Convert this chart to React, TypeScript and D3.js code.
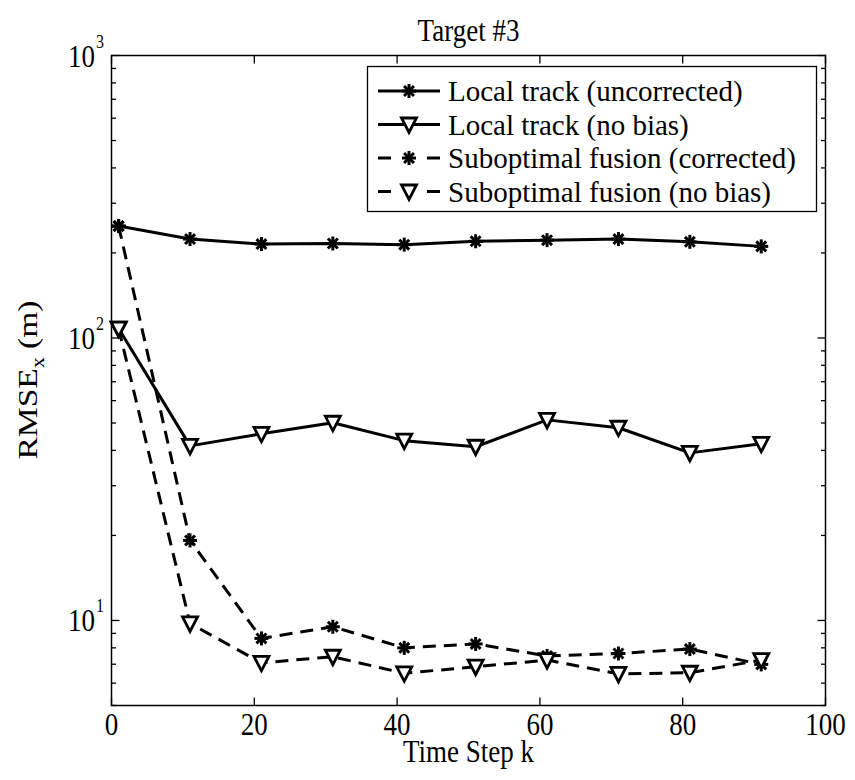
import React from "react";
import * as d3 from "d3";

const xValues = [1, 11, 21, 31, 41, 51, 61, 71, 81, 91];
const localUncorrected = [249, 224, 215, 216, 214, 220, 222, 224, 219, 211];
const localNoBias = [108, 41.5, 45.8, 50.1, 43.3, 41.2, 51.3, 48.1, 39.2, 42.2];
const fusionCorrected = [249, 19.2, 8.64, 9.5, 8.0, 8.26, 7.49, 7.64, 7.92, 6.99];
const fusionNoBias = [108, 9.76, 7.08, 7.44, 6.5, 6.86, 7.24, 6.47, 6.53, 7.24];

const seriesNames = [
  "Local track (uncorrected)",
  "Local track (no bias)",
  "Suboptimal fusion (corrected)",
  "Suboptimal fusion (no bias)",
];
const xTicks = [0, 20, 40, 60, 80, 100];
const yMajorTicks = [10, 100, 1000];
const yExponents = ["1", "2", "3"];
const titleText = "Target #3";
const xLabel = "Time Step k";

const W = 855;
const H = 780;
const left = 111.5;
const right = 825.5;
const top = 55.5;
const bottom = 705.5;
const FONT = "'Liberation Serif', 'DejaVu Serif', 'Times New Roman', serif";
const SY = 1.2;

const x = d3.scaleLinear().domain([0, 100]).range([left, right]);
const y = d3.scaleLog().domain([5, 1000]).range([bottom, top]);

type Marker = "star" | "tri";

function ST({
  x: tx,
  y: ty,
  size,
  anchor = "start",
  sy = SY,
  children,
}: {
  x: number;
  y: number;
  size: number;
  anchor?: string;
  sy?: number;
  children: React.ReactNode;
}) {
  return (
    <text
      transform={`translate(${tx},${ty}) scale(1,${sy})`}
      textAnchor={anchor}
      fontSize={size}
      fill="#000"
      style={{ fontFamily: FONT }}
    >
      {children}
    </text>
  );
}

function Star({ cx, cy, s = 7 }: { cx: number; cy: number; s?: number }) {
  const d = s * 0.7071;
  return (
    <g stroke="#000" strokeWidth={3} strokeLinecap="butt">
      <line x1={cx - s} y1={cy} x2={cx + s} y2={cy} />
      <line x1={cx} y1={cy - s} x2={cx} y2={cy + s} />
      <line x1={cx - d} y1={cy - d} x2={cx + d} y2={cy + d} />
      <line x1={cx - d} y1={cy + d} x2={cx + d} y2={cy - d} />
    </g>
  );
}

function Tri({ cx, cy }: { cx: number; cy: number }) {
  const hw = 7.5;
  const t = cy - 6.5;
  const b = cy + 8;
  return (
    <path
      d={`M${cx - hw},${t}L${cx + hw},${t}L${cx},${b}Z`}
      fill="#fff"
      stroke="#000"
      strokeWidth={2.8}
      strokeLinejoin="miter"
    />
  );
}

function MarkerAt({ m, cx, cy }: { m: Marker; cx: number; cy: number }) {
  return m === "star" ? <Star cx={cx} cy={cy} /> : <Tri cx={cx} cy={cy} />;
}

const series: { values: number[]; marker: Marker; dashed: boolean }[] = [
  { values: localUncorrected, marker: "star", dashed: false },
  { values: localNoBias, marker: "tri", dashed: false },
  { values: fusionCorrected, marker: "star", dashed: true },
  { values: fusionNoBias, marker: "tri", dashed: true },
];

export default function App() {
  const line = d3
    .line<number>()
    .x((_, i) => x(xValues[i]))
    .y((v) => y(v));

  const minor: number[] = [];
  for (const dec of [1, 10, 100]) {
    for (let k = 2; k <= 9; k++) {
      const v = dec * k;
      if (v >= 5 && v < 1000) minor.push(v);
    }
  }

  const legX0 = 367.5;
  const legY0 = 66.5;
  const legW = 449;
  const legH = 145;
  const rowY = (i: number) => 91 + i * 33.5;

  return (
    <svg
      width={W}
      height={H}
      style={{ position: "absolute", left: 0, top: 0, background: "#fff", fontFamily: FONT }}
    >
      <rect x={0} y={0} width={W} height={H} fill="#fff" />
      {/* ticks */}
      <g stroke="#000" strokeWidth={1.3}>
        {xTicks.map((t) => (
          <g key={"xt" + t}>
            <line x1={x(t)} x2={x(t)} y1={bottom} y2={bottom - 8} />
            <line x1={x(t)} x2={x(t)} y1={top} y2={top + 8} />
          </g>
        ))}
        {yMajorTicks.map((t) => (
          <g key={"yt" + t}>
            <line x1={left} x2={left + 8} y1={y(t)} y2={y(t)} />
            <line x1={right} x2={right - 8} y1={y(t)} y2={y(t)} />
          </g>
        ))}
        {minor.map((t) => (
          <g key={"ym" + t}>
            <line x1={left} x2={left + 4.5} y1={y(t)} y2={y(t)} />
            <line x1={right} x2={right - 4.5} y1={y(t)} y2={y(t)} />
          </g>
        ))}
      </g>
      {/* series */}
      {series.map((s, si) => (
        <g key={"s" + si}>
          <path
            d={line(s.values) || ""}
            fill="none"
            stroke="#000"
            strokeWidth={3}
            strokeDasharray={s.dashed ? "13,8" : undefined}
            strokeLinejoin="round"
          />
          {s.values.map((v, i) => (
            <MarkerAt key={i} m={s.marker} cx={x(xValues[i])} cy={y(v)} />
          ))}
        </g>
      ))}
      {/* axis box */}
      <rect
        x={left}
        y={top}
        width={right - left}
        height={bottom - top}
        fill="none"
        stroke="#000"
        strokeWidth={1.5}
      />
      {/* tick labels */}
      {xTicks.map((t) => (
        <ST key={"xl" + t} x={x(t)} y={735} size={27} anchor="middle">
          {t}
        </ST>
      ))}
      {yMajorTicks.map((t) => (
        <ST key={"yl" + t} x={95} y={y(t) + 11} size={27} anchor="end">
          10
        </ST>
      ))}
      {yMajorTicks.map((t, i) => (
        <ST key={"ye" + t} x={96} y={y(t) - 8} size={16}>
          {yExponents[i]}
        </ST>
      ))}
      {/* title and labels */}
      <ST x={(left + right) / 2} y={41} size={27} anchor="middle">
        {titleText}
      </ST>
      <ST x={(left + right) / 2} y={762} size={27} anchor="middle">
        {xLabel}
      </ST>
      <text
        transform={`translate(37,380) rotate(-90) scale(${SY},1)`}
        textAnchor="middle"
        fontSize={28}
        style={{ fontFamily: FONT }}
      >
        RMSE
        <tspan fontSize={18} dy={7}>x</tspan>
        <tspan dy={-7}> (m)</tspan>
      </text>
      {/* legend */}
      <rect
        x={legX0}
        y={legY0}
        width={legW}
        height={legH}
        fill="#fff"
        stroke="#000"
        strokeWidth={1.3}
      />
      {series.map((s, i) => (
        <g key={"lg" + i}>
          {s.dashed ? (
            <g stroke="#000" strokeWidth={3}>
              <line x1={378} x2={391} y1={rowY(i)} y2={rowY(i)} />
              <line x1={427} x2={440} y1={rowY(i)} y2={rowY(i)} />
            </g>
          ) : (
            <line x1={378} x2={440} y1={rowY(i)} y2={rowY(i)} stroke="#000" strokeWidth={3} />
          )}
          <MarkerAt m={s.marker} cx={409} cy={rowY(i)} />
          <ST x={448} y={rowY(i) + 10} size={29} sy={1.0}>
            {seriesNames[i]}
          </ST>
        </g>
      ))}
    </svg>
  );
}
